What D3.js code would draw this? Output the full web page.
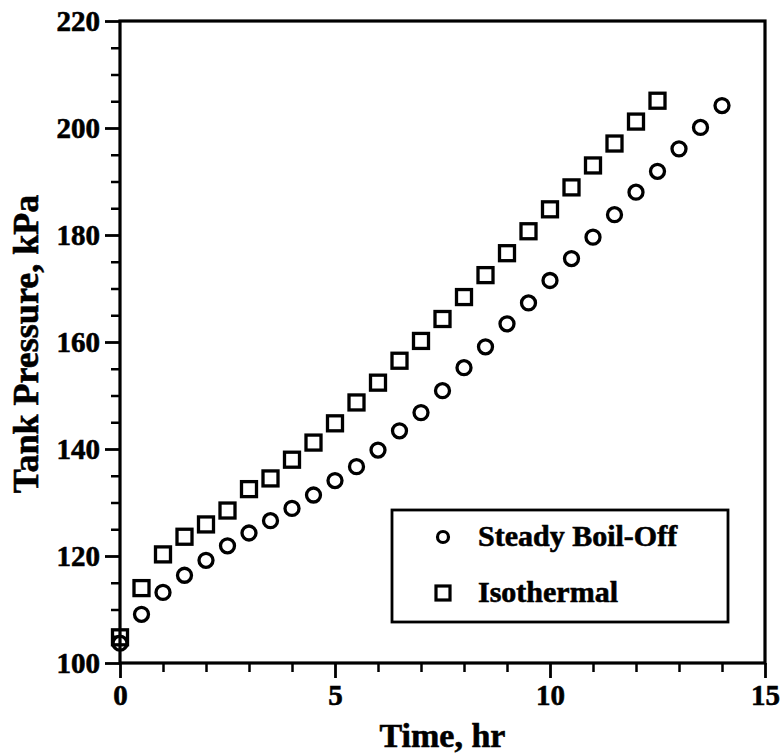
<!DOCTYPE html>
<html>
<head>
<meta charset="utf-8">
<script src="https://cdn.jsdelivr.net/npm/d3@7"></script>
<style>
  html, body { margin: 0; padding: 0; background: #fff; }
  svg { display: block; }
  text { font-family: "Liberation Serif", "Times New Roman", serif; font-weight: bold; fill: #000; stroke: #000; stroke-width: 0.6px; }
</style>
</head>
<body>
<svg id="chart" width="784" height="756"></svg>
<script>
// ---- data ----
const timeBoilOff = [0, 0.5, 1, 1.5, 2, 2.5, 3, 3.5, 4, 4.5, 5, 5.5, 6, 6.5, 7, 7.5, 8, 8.5, 9, 9.5, 10, 10.5, 11, 11.5, 12, 12.5, 13, 13.5, 14];
const pressureBoilOff = [103.7, 109.1, 113.2, 116.4, 119.2, 121.9, 124.3, 126.6, 128.9, 131.4, 134.1, 136.7, 139.8, 143.4, 146.8, 150.9, 155.2, 159.1, 163.4, 167.3, 171.5, 175.6, 179.6, 183.8, 188.0, 191.9, 196.1, 200.1, 204.2];
const timeIsothermal = [0, 0.5, 1, 1.5, 2, 2.5, 3, 3.5, 4, 4.5, 5, 5.5, 6, 6.5, 7, 7.5, 8, 8.5, 9, 9.5, 10, 10.5, 11, 11.5, 12, 12.5];
const pressureIsothermal = [104.8, 114.0, 120.3, 123.6, 125.9, 128.5, 132.5, 134.5, 138.0, 141.2, 144.8, 148.7, 152.4, 156.5, 160.2, 164.3, 168.4, 172.5, 176.6, 180.7, 184.8, 188.9, 193.0, 197.1, 201.2, 205.1];
const xMajorTicks = [0, 5, 10, 15];
const xMinorTicks = [1, 2, 3, 4, 6, 7, 8, 9, 11, 12, 13, 14];
const yMajorTicks = [100, 120, 140, 160, 180, 200, 220];
const yMinorTicks = [105, 110, 115, 125, 130, 135, 145, 150, 155, 165, 170, 175, 185, 190, 195, 205, 210, 215];
const seriesNames = ["Steady Boil-Off", "Isothermal"];
const xTitle = "Time, hr";
const yTitle = "Tank Pressure, kPa";

// ---- layout ----
const svg = d3.select("#chart");
const mLeft = 120, mRight = 765, mTop = 21, mBottom = 663;
const x = d3.scaleLinear().domain([0, 15]).range([mLeft, mRight]);
const y = d3.scaleLinear().domain([100, 220]).range([mBottom, mTop]);

// minor ticks
svg.append("g").attr("transform", `translate(0,${mBottom})`)
  .call(d3.axisBottom(x).tickValues(xMinorTicks).tickSize(9).tickSizeOuter(0).tickFormat(""))
  .call(g => g.select(".domain").remove())
  .call(g => g.selectAll("line").attr("stroke-width", 2.5));
svg.append("g").attr("transform", `translate(${mLeft},0)`)
  .call(d3.axisLeft(y).tickValues(yMinorTicks).tickSize(9).tickSizeOuter(0).tickFormat(""))
  .call(g => g.select(".domain").remove())
  .call(g => g.selectAll("line").attr("stroke-width", 2.5));

// major ticks
const xAxis = svg.append("g").attr("transform", `translate(0,${mBottom})`)
  .call(d3.axisBottom(x).tickValues(xMajorTicks).tickSize(15).tickSizeOuter(0).tickPadding(6).tickFormat(d3.format("d")))
  .call(g => g.select(".domain").remove());
xAxis.selectAll("line").attr("stroke-width", 2.8);
xAxis.selectAll("text").attr("font-size", 29).attr("font-family", null);

const yAxis = svg.append("g").attr("transform", `translate(${mLeft},0)`)
  .call(d3.axisLeft(y).tickValues(yMajorTicks).tickSize(15).tickSizeOuter(0).tickPadding(5).tickFormat(d3.format("d")))
  .call(g => g.select(".domain").remove());
yAxis.selectAll("line").attr("stroke-width", 2.8);
yAxis.selectAll("text").attr("font-size", 29).attr("font-family", null);

// frame
svg.append("rect")
  .attr("x", mLeft).attr("y", mTop)
  .attr("width", mRight - mLeft).attr("height", mBottom - mTop)
  .attr("fill", "none").attr("stroke", "#000").attr("stroke-width", 3.2);

// data markers
const boil = timeBoilOff.map((t, i) => ({ t, p: pressureBoilOff[i] }));
const iso = timeIsothermal.map((t, i) => ({ t, p: pressureIsothermal[i] }));

svg.append("g").selectAll("circle").data(boil).join("circle")
  .attr("cx", d => x(d.t)).attr("cy", d => y(d.p)).attr("r", 7)
  .attr("fill", "none").attr("stroke", "#000").attr("stroke-width", 3.3);

const sq = 15;
svg.append("g").selectAll("rect").data(iso).join("rect")
  .attr("x", d => x(d.t) - sq / 2).attr("y", d => y(d.p) - sq / 2)
  .attr("width", sq).attr("height", sq)
  .attr("fill", "none").attr("stroke", "#000").attr("stroke-width", 3.3);

// legend
const lg = svg.append("g");
lg.append("rect").attr("x", 392).attr("y", 510).attr("width", 336).attr("height", 112)
  .attr("fill", "#fff").attr("stroke", "#000").attr("stroke-width", 2.8);
lg.append("circle").attr("cx", 443).attr("cy", 537).attr("r", 5.5)
  .attr("fill", "none").attr("stroke", "#000").attr("stroke-width", 3.2);
lg.append("rect").attr("x", 443 - 7).attr("y", 593 - 7).attr("width", 14).attr("height", 14)
  .attr("fill", "none").attr("stroke", "#000").attr("stroke-width", 3.2);
lg.append("text").attr("x", 478).attr("y", 546).attr("font-size", 30).text(seriesNames[0]);
lg.append("text").attr("x", 478).attr("y", 602).attr("font-size", 30).text(seriesNames[1]);

// axis titles
svg.append("text").attr("x", (mLeft + mRight) / 2).attr("y", 747)
  .attr("text-anchor", "middle").attr("font-size", 34).text(xTitle);
svg.append("text").attr("transform", `translate(38,${(mTop + mBottom) / 2 + 2}) rotate(-90)`)
  .attr("text-anchor", "middle").attr("font-size", 36).text(yTitle);
</script>
</body>
</html>
